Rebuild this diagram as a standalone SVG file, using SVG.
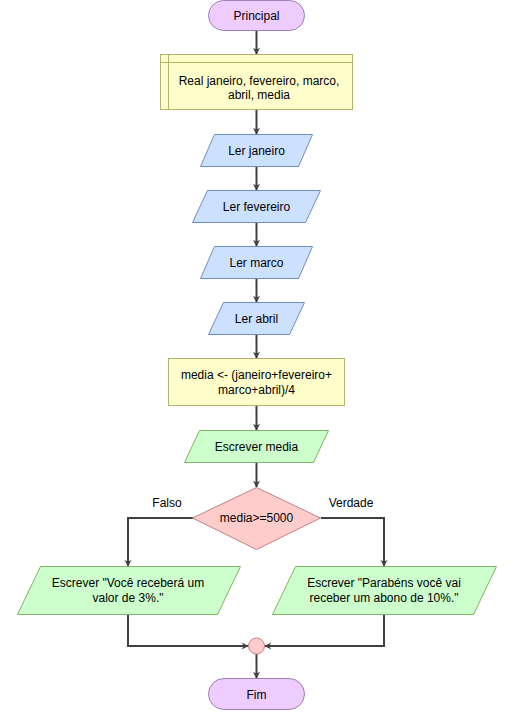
<svg xmlns="http://www.w3.org/2000/svg" width="513" height="716" viewBox="0 0 513 716">
<style>
text{font-family:"Liberation Sans",Arial,sans-serif;font-size:12px;fill:#000;text-anchor:middle}
.term{fill:#EECCFF;stroke:#9F7FB3;stroke-width:1}
.decl{fill:#FFFFCC;stroke:#B3B36B;stroke-width:1}
.inp{fill:#CCE0FF;stroke:#6C8EBF;stroke-width:1}
.out{fill:#CCFFCC;stroke:#82B366;stroke-width:1}
.dec{fill:#FFCCCC;stroke:#C08080;stroke-width:1}
.edge{fill:none;stroke:#404040;stroke-width:2}
</style>
<defs>
<marker id="arr" viewBox="0 0 10 10" refX="9" refY="5" markerWidth="7" markerHeight="7" orient="auto" markerUnits="userSpaceOnUse" style="overflow:visible">
<path d="M0,0 L10,5 L0,10 L3,5 Z" fill="#404040"/>
</marker>
</defs>
<rect width="513" height="716" fill="#fff"/>
<g id="edges">
<path class="edge" d="M256.5,31 V54" marker-end="url(#arr)"/>
<path class="edge" d="M256.5,110 V134" marker-end="url(#arr)"/>
<path class="edge" d="M256.5,166 V190" marker-end="url(#arr)"/>
<path class="edge" d="M256.5,222 V246" marker-end="url(#arr)"/>
<path class="edge" d="M256.5,278 V302" marker-end="url(#arr)"/>
<path class="edge" d="M256.5,334 V358" marker-end="url(#arr)"/>
<path class="edge" d="M256.5,405 V430" marker-end="url(#arr)"/>
<path class="edge" d="M256.5,462 V487" marker-end="url(#arr)"/>
<path class="edge" d="M193,518 H128 V566" marker-end="url(#arr)"/>
<path class="edge" d="M321,518 H384 V566" marker-end="url(#arr)"/>
<path class="edge" d="M128,614 V646 H248" marker-end="url(#arr)"/>
<path class="edge" d="M384,614 V646 H265" marker-end="url(#arr)"/>
<path class="edge" d="M256.5,654 V678" marker-end="url(#arr)"/>
<text x="167" y="507">Falso</text>
<text x="351" y="507">Verdade</text>
</g>
<g id="principal">
<rect class="term" x="208.5" y="0.5" width="96" height="30" rx="15"/>
<text x="256.5" y="20">Principal</text>
</g>
<g id="declare">
<rect class="decl" x="160.5" y="54.5" width="192" height="55"/>
<path class="decl" d="M168.5,54.5 V109.5 M160.5,62.5 H352.5" fill="none"/>
<text x="259" y="85">Real janeiro, fevereiro, marco,</text>
<text x="259" y="99">abril, media</text>
</g>
<g id="ler-janeiro">
<polygon class="inp" points="214.5,134.5 312.5,134.5 298.5,166.5 200.5,166.5"/>
<text x="256.5" y="155">Ler janeiro</text>
</g>
<g id="ler-fevereiro">
<polygon class="inp" points="207.5,190.5 320.5,190.5 305.5,222.5 192.5,222.5"/>
<text x="256.5" y="211">Ler fevereiro</text>
</g>
<g id="ler-marco">
<polygon class="inp" points="214.5,246.5 312.5,246.5 298.5,278.5 200.5,278.5"/>
<text x="256.5" y="267">Ler marco</text>
</g>
<g id="ler-abril">
<polygon class="inp" points="223.5,302.5 304.5,302.5 289.5,334.5 208.5,334.5"/>
<text x="256.5" y="323">Ler abril</text>
</g>
<g id="calc-media">
<rect class="decl" x="168.5" y="358.5" width="176" height="47"/>
<text x="256.5" y="379">media &lt;- (janeiro+fevereiro+</text>
<text x="256.5" y="394">marco+abril)/4</text>
</g>
<g id="escrever-media">
<polygon class="out" points="199.5,430.5 328.5,430.5 313.5,462.5 184.5,462.5"/>
<text x="256.5" y="451">Escrever media</text>
</g>
<g id="decision">
<polygon class="dec" points="256.5,487.5 320.5,518 256.5,549.5 192.5,518"/>
<text x="256.5" y="522">media&gt;=5000</text>
</g>
<g id="out-falso">
<polygon class="out" points="40.5,566.5 240.5,566.5 217.5,614.5 17.5,614.5"/>
<text x="128" y="587">Escrever "Você receberá um</text>
<text x="128" y="602">valor de 3%."</text>
</g>
<g id="out-verdade">
<polygon class="out" points="295.5,566.5 496.5,566.5 473.5,614.5 272.5,614.5"/>
<text x="384" y="587">Escrever "Parabéns você vai</text>
<text x="384" y="602">receber um abono de 10%."</text>
</g>
<g id="junction">
<circle class="dec" cx="256.5" cy="646" r="8"/>
</g>
<g id="fim">
<rect class="term" x="208.5" y="678.5" width="96" height="31" rx="15.5"/>
<text x="256.5" y="699">Fim</text>
</g>
</svg>
